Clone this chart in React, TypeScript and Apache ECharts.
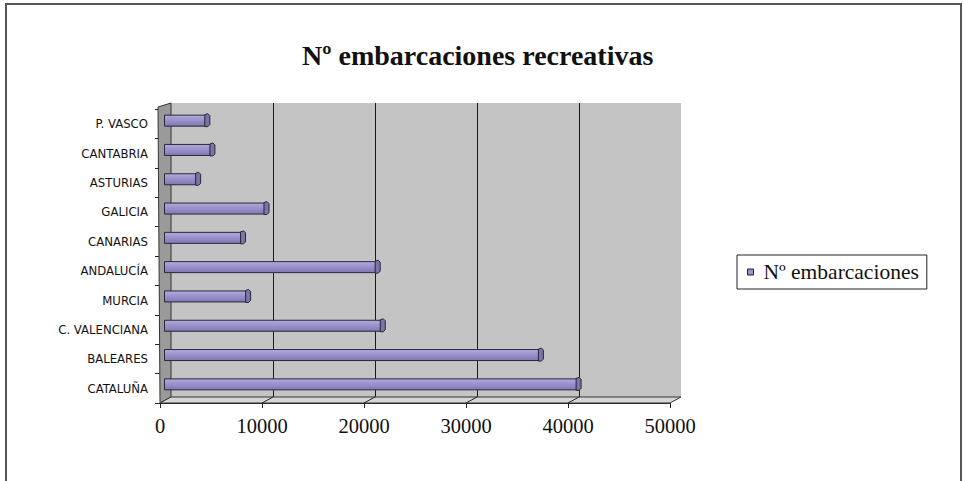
import React, { useEffect, useRef } from "react";
import * as echarts from "echarts";

const categories = [
  "CATALUÑA",
  "BALEARES",
  "C. VALENCIANA",
  "MURCIA",
  "ANDALUCÍA",
  "CANARIAS",
  "GALICIA",
  "ASTURIAS",
  "CANTABRIA",
  "P. VASCO",
];
const values = [40500, 36800, 21300, 8100, 20800, 7600, 9900, 3200, 4600, 4100];
const xTicks = [0, 10000, 20000, 30000, 40000, 50000];
const seriesName = "Nº embarcaciones";
const titleText = "Nº embarcaciones recreativas";

const X_MAX = 50000;
const X_INTERVAL = 10000;

export default function App() {
  const ref = useRef<HTMLDivElement>(null);

  useEffect(() => {
    if (!ref.current) return;
    const chart = echarts.init(ref.current, null, { renderer: "svg" });

    const frontLeft = 160;
    const backLeft = 171;
    const plotW = 510;
    const frontBottom = 403;
    const backBottom = 397;
    const backTop = 103;
    const scale = plotW / X_MAX;

    const floorTicks = xTicks.slice(1, -1).map((v) => ({
      type: "line",
      z: 1,
      shape: {
        x1: backLeft + v * scale,
        y1: backBottom,
        x2: frontLeft + v * scale,
        y2: frontBottom,
      },
      style: { stroke: "#222", lineWidth: 1 },
    }));

    const barGradient = new echarts.graphic.LinearGradient(0, 0, 0, 1, [
      { offset: 0, color: "#b0abdd" },
      { offset: 0.45, color: "#9a93cc" },
      { offset: 1, color: "#7f78b2" },
    ]);

    chart.setOption({
      animation: false,
      backgroundColor: "#ffffff",
      title: {
        text: titleText,
        left: 302,
        top: 41,
        padding: 0,
        textStyle: {
          fontFamily: "Liberation Serif",
          fontSize: 28,
          fontWeight: "bold",
          color: "#111",
        },
      },
      legend: {
        data: [seriesName],
        left: 737,
        top: 255,
        orient: "vertical",
        icon: "rect",
        itemWidth: 6,
        itemHeight: 6,
        padding: [6, 8, 6, 10],
        borderColor: "#222",
        borderWidth: 1,
        backgroundColor: "#fff",
        itemStyle: { color: "#9a94cc", borderColor: "#222", borderWidth: 1 },
        textStyle: {
          fontFamily: "Liberation Serif",
          fontSize: 21.5,
          color: "#111",
          padding: [0, 0, 0, 5],
        },
      },
      grid: [
        {
          left: backLeft,
          top: backTop,
          width: plotW,
          height: backBottom - backTop,
          show: true,
          backgroundColor: "#c4c4c4",
          borderWidth: 0,
        },
        { left: frontLeft, top: 109, width: plotW, height: frontBottom - 109 },
        { left: 164, top: 106, width: plotW, height: 293 },
      ],
      xAxis: [
        {
          gridIndex: 0,
          type: "value",
          min: 0,
          max: X_MAX,
          interval: X_INTERVAL,
          axisLabel: { show: false },
          axisLine: { show: false },
          axisTick: { show: false },
          splitLine: {
            show: true,
            showMinLine: false,
            showMaxLine: false,
            lineStyle: { color: "#1a1a1a", width: 1 },
          },
        },
        {
          gridIndex: 1,
          type: "value",
          min: 0,
          max: X_MAX,
          interval: X_INTERVAL,
          axisLine: { show: true, lineStyle: { color: "#222", width: 1 } },
          axisTick: { show: true, length: 5, lineStyle: { color: "#222" } },
          splitLine: { show: false },
          axisLabel: {
            show: true,
            margin: 12,
            fontFamily: "Liberation Serif",
            fontSize: 20.5,
            color: "#111",
            formatter: (v: number) => String(v),
          },
        },
        { gridIndex: 2, type: "value", min: 0, max: X_MAX, show: false },
      ],
      yAxis: [
        { gridIndex: 0, type: "category", data: categories, show: false },
        {
          gridIndex: 1,
          type: "category",
          data: categories,
          axisLine: { show: true, lineStyle: { color: "#222", width: 1 } },
          axisTick: { show: true, length: 5, lineStyle: { color: "#222" } },
          axisLabel: {
            margin: 12,
            fontFamily:
              "'Liberation Sans Narrow', 'DejaVu Sans Condensed', 'Liberation Sans'",
            fontSize: 13,
            color: "#111",
          },
          splitLine: { show: false },
        },
        { gridIndex: 2, type: "category", data: categories, show: false },
      ],
      graphic: [
        {
          type: "rect",
          z: 0,
          shape: { x: 6, y: 4, width: 955, height: 520 },
          style: { fill: "none", stroke: "#555", lineWidth: 2 },
        },
        {
          type: "polygon",
          z: 1,
          shape: {
            points: [
              [frontLeft - 2, 107],
              [backLeft, backTop],
              [backLeft, backBottom],
              [frontLeft, frontBottom],
            ],
          },
          style: { fill: "#9a9a9a", stroke: "#333", lineWidth: 1 },
        },
        {
          type: "polygon",
          z: 1,
          shape: {
            points: [
              [frontLeft, frontBottom],
              [frontLeft + plotW, frontBottom],
              [backLeft + plotW, backBottom],
              [backLeft, backBottom],
            ],
          },
          style: { fill: "#d6d6d6", stroke: "#333", lineWidth: 1 },
        },
        ...floorTicks,
      ],
      series: [
        {
          name: seriesName,
          type: "bar",
          xAxisIndex: 2,
          yAxisIndex: 2,
          data: values,
          barWidth: 12,
          z: 3,
          itemStyle: {
            color: barGradient,
            borderColor: "#2a2838",
            borderWidth: 1,
          },
        },
        {
          name: "caps",
          type: "custom",
          xAxisIndex: 2,
          yAxisIndex: 2,
          z: 4,
          data: values.map((v, i) => [v, i]),
          encode: { x: 0, y: 1 },
          renderItem: (params: any, api: any) => {
            const p = api.coord([api.value(0), api.value(1)]);
            const x = p[0];
            const y = p[1];
            return {
              type: "polygon",
              shape: {
                points: [
                  [x - 1, y - 6],
                  [x + 2, y - 7],
                  [x + 4, y - 5],
                  [x + 4, y + 4],
                  [x + 2, y + 6],
                  [x - 1, y + 6],
                ],
              },
              style: { fill: "#7a74a8", stroke: "#2a2838", lineWidth: 1 },
            };
          },
        },
      ],
    });

    return () => chart.dispose();
  }, []);

  return (
    <div
      ref={ref}
      style={{ position: "fixed", left: 0, top: 0, width: 963, height: 481 }}
    />
  );
}
